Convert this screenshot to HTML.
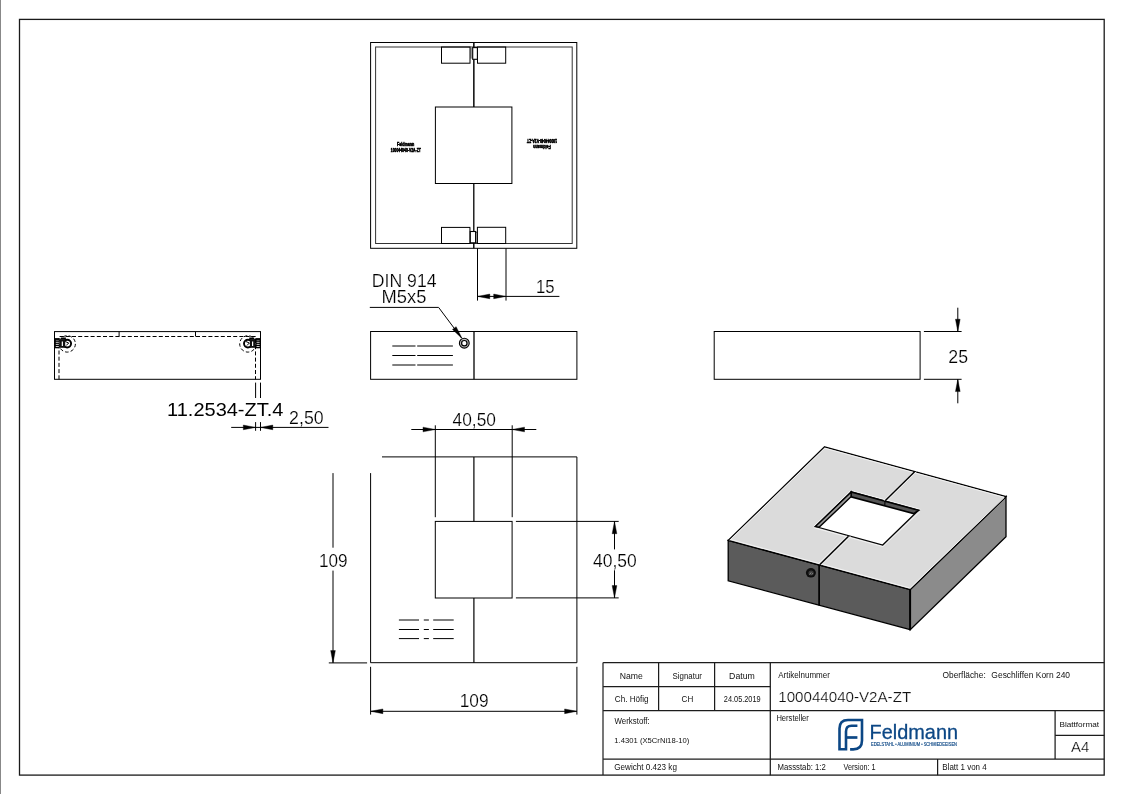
<!DOCTYPE html>
<html><head><meta charset="utf-8"><title>Drawing</title>
<style>
html,body{margin:0;padding:0;background:#fff;}
body{width:1123px;height:794px;overflow:hidden;font-family:"Liberation Sans",sans-serif;}
svg{position:absolute;left:0;top:0;display:block;will-change:transform;}
</style></head>
<body>
<svg width="1123" height="794" viewBox="0 0 1123 794">
<line x1="0.5" y1="0" x2="0.5" y2="794" stroke="#888" stroke-width="1" />
<rect x="19.5" y="19.4" width="1084.7" height="755.7" fill="none" stroke="#1a1a1a" stroke-width="1.3" />
<rect x="370.6" y="42.5" width="206.2" height="205.8" fill="none" stroke="#000" stroke-width="1" />
<rect x="375.6" y="47.0" width="196.6" height="196.5" fill="none" stroke="#333" stroke-width="1" />
<line x1="473.85" y1="42.5" x2="473.85" y2="47.5" stroke="#000" stroke-width="1.5" />
<line x1="473.85" y1="59.3" x2="473.85" y2="107" stroke="#000" stroke-width="1.46" />
<line x1="473.8" y1="183.5" x2="473.8" y2="231.5" stroke="#000" stroke-width="1.3" />
<line x1="473.8" y1="242.8" x2="473.8" y2="248.3" stroke="#000" stroke-width="1.4" />
<rect x="435.4" y="107.0" width="76.5" height="76.5" fill="none" stroke="#000" stroke-width="1" />
<rect x="470.2" y="47.8" width="2.4" height="10.8" fill="#9a9a9a"/>
<rect x="441.5" y="47.0" width="28.5" height="16.2" fill="none" stroke="#000" stroke-width="1" />
<rect x="477.5" y="47.0" width="28.2" height="16.2" fill="none" stroke="#000" stroke-width="1" />
<rect x="472.7" y="47.6" width="4.7" height="11.7" fill="#fff" stroke="#000" stroke-width="1.1" />
<rect x="475.9" y="232.0" width="1.4" height="10.8" fill="#d0d0d0" stroke="#555" stroke-width="0.6"/>
<rect x="441.5" y="227.4" width="28.4" height="16.1" fill="none" stroke="#000" stroke-width="1" />
<rect x="469.5" y="228" width="1" height="15" fill="#777"/>
<rect x="477.4" y="227.3" width="28.3" height="16.2" fill="none" stroke="#000" stroke-width="1" />
<rect x="470.3" y="231.5" width="5.3" height="11.3" fill="#fff" stroke="#000" stroke-width="1.1" />
<text x="405.6" y="145.7" font-size="4.6" font-family="Liberation Sans" font-weight="bold" text-anchor="middle" stroke="#000" stroke-width="0.55" textLength="17.2" lengthAdjust="spacingAndGlyphs">Feldmann</text>
<text x="405.8" y="151.7" font-size="4.6" font-family="Liberation Sans" font-weight="bold" text-anchor="middle" stroke="#000" stroke-width="0.55" textLength="30" lengthAdjust="spacingAndGlyphs">100044040-V2A-ZT</text>
<g transform="rotate(180 542 143.3)"><text x="542" y="141.6" font-size="4.6" font-family="Liberation Sans" font-weight="bold" text-anchor="middle" stroke="#000" stroke-width="0.55" textLength="17.6" lengthAdjust="spacingAndGlyphs">Feldmann</text><text x="542" y="147.8" font-size="4.6" font-family="Liberation Sans" font-weight="bold" text-anchor="middle" stroke="#000" stroke-width="0.55" textLength="30" lengthAdjust="spacingAndGlyphs">100044040-V2A-ZT</text></g>
<line x1="477.5" y1="248.3" x2="477.5" y2="300.6" stroke="#000" stroke-width="1" />
<line x1="506.0" y1="248.3" x2="506.0" y2="300.6" stroke="#000" stroke-width="1" />
<line x1="477.5" y1="296.4" x2="559.4" y2="296.4" stroke="#000" stroke-width="1" />
<path d="M477.5,296.4 L489.8,294.05 L489.8,298.75 Z" fill="#000" stroke="#000" stroke-width="0.4" />
<path d="M506.0,296.4 L493.7,298.75 L493.7,294.05 Z" fill="#000" stroke="#000" stroke-width="0.4" />
<text x="536.03" y="292.7" font-size="17.88" font-family="Liberation Sans" font-weight="normal" fill="#000" stroke="#fff" stroke-width="0.2" textLength="18.57" lengthAdjust="spacingAndGlyphs" >15</text>
<text x="371.85" y="286.6" font-size="17.59" font-family="Liberation Sans" font-weight="normal" fill="#000" stroke="#fff" stroke-width="0.2" textLength="64.66" lengthAdjust="spacingAndGlyphs" >DIN 914</text>
<text x="381.49" y="303.3" font-size="18.31" font-family="Liberation Sans" font-weight="normal" fill="#000" stroke="#fff" stroke-width="0.2" textLength="44.88" lengthAdjust="spacingAndGlyphs" >M5x5</text>
<path d="M369.8,307.4 L438.6,307.4 L461.5,338.0" fill="none" stroke="#000" stroke-width="1" />
<path d="M462.1,338.4 L452.45,329.39 L456.13,326.63 Z" fill="#000" stroke="#000" stroke-width="0.4" />
<rect x="370.6" y="331.5" width="206.3" height="47.8" fill="none" stroke="#000" stroke-width="1" />
<line x1="474.0" y1="331.5" x2="474.0" y2="379.3" stroke="#000" stroke-width="1.3" />
<circle cx="464.3" cy="343.2" r="4.9" fill="#bbb" stroke="#000" stroke-width="1.1"/>
<circle cx="464.3" cy="343.2" r="2.7" fill="#fff" stroke="#000" stroke-width="1.2"/>
<line x1="392.3" y1="346.0" x2="415.5" y2="346.0" stroke="#000" stroke-width="1" />
<line x1="417.2" y1="346.0" x2="452.9" y2="346.0" stroke="#000" stroke-width="1" />
<line x1="392.3" y1="355.5" x2="415.5" y2="355.5" stroke="#000" stroke-width="1" />
<line x1="417.2" y1="355.5" x2="452.9" y2="355.5" stroke="#000" stroke-width="1" />
<line x1="392.3" y1="365.0" x2="415.5" y2="365.0" stroke="#000" stroke-width="1" />
<line x1="417.2" y1="365.0" x2="452.9" y2="365.0" stroke="#000" stroke-width="1" />
<rect x="714.2" y="331.5" width="205.9" height="47.8" fill="none" stroke="#000" stroke-width="1" />
<line x1="923.9" y1="331.5" x2="961.6" y2="331.5" stroke="#000" stroke-width="1" />
<line x1="923.9" y1="379.3" x2="961.6" y2="379.3" stroke="#000" stroke-width="1" />
<line x1="957.8" y1="307.7" x2="957.8" y2="331.5" stroke="#000" stroke-width="1" />
<line x1="957.8" y1="379.3" x2="957.8" y2="403.3" stroke="#000" stroke-width="1" />
<path d="M957.8,331.5 L955.45,319.2 L960.15,319.2 Z" fill="#000" stroke="#000" stroke-width="0.4" />
<path d="M957.8,379.3 L960.15,391.6 L955.45,391.6 Z" fill="#000" stroke="#000" stroke-width="0.4" />
<text x="948.31" y="362.8" font-size="18.02" font-family="Liberation Sans" font-weight="normal" fill="#000" stroke="#fff" stroke-width="0.2" textLength="19.74" lengthAdjust="spacingAndGlyphs" >25</text>
<rect x="54.5" y="331.6" width="206.0" height="47.7" fill="none" stroke="#000" stroke-width="1" />
<path d="M59.0,379.3 V336.5 H255.5 V379.3" fill="none" stroke="#000" stroke-width="1" stroke-dasharray="4,2.2"/>
<line x1="119.1" y1="331.7" x2="119.1" y2="336.5" stroke="#000" stroke-width="1" />
<line x1="195.5" y1="331.7" x2="195.5" y2="336.5" stroke="#000" stroke-width="1" />
<circle cx="67.2" cy="343.9" r="8.2" fill="none" stroke="#000" stroke-width="1" stroke-dasharray="3.5,2.2"/>
<circle cx="67.2" cy="343.6" r="3.9" fill="none" stroke="#000" stroke-width="1.9"/>
<rect x="59.5" y="339.2" width="5.700000000000003" height="8.6" fill="#111"/>
<rect x="61.75" y="341.5" width="1.2" height="4.5" fill="#fff"/>
<path d="M65.2,341.5 L68.7,343 L66.2,345.5" fill="none" stroke="#000" stroke-width="1"/>
<rect x="54.5" y="338.1" width="5.0" height="10.2" fill="#000"/>
<rect x="60.900000000000006" y="337.5" width="5" height="2" fill="#000"/>
<line x1="55.8" y1="342.3" x2="58.8" y2="342.3" stroke="#fff" stroke-width="0.8"/>
<line x1="55.8" y1="344.4" x2="58.8" y2="344.4" stroke="#fff" stroke-width="0.8"/>
<line x1="55.8" y1="346.5" x2="58.8" y2="346.5" stroke="#fff" stroke-width="0.8"/>
<line x1="55.8" y1="340.4" x2="58.8" y2="340.4" stroke="#888" stroke-width="0.8"/>
<circle cx="247.9" cy="343.9" r="8.2" fill="none" stroke="#000" stroke-width="1" stroke-dasharray="3.5,2.2"/>
<circle cx="247.9" cy="343.6" r="3.9" fill="none" stroke="#000" stroke-width="1.9"/>
<rect x="249.9" y="339.2" width="5.400000000000006" height="8.6" fill="#111"/>
<rect x="252.00000000000003" y="341.5" width="1.2" height="4.5" fill="#fff"/>
<path d="M245.9,341.5 L249.4,343 L246.9,345.5" fill="none" stroke="#000" stroke-width="1"/>
<rect x="255.3" y="338.1" width="5.0" height="10.2" fill="#000"/>
<rect x="249.20000000000002" y="337.5" width="5" height="2" fill="#000"/>
<line x1="256.6" y1="342.3" x2="259.6" y2="342.3" stroke="#fff" stroke-width="0.8"/>
<line x1="256.6" y1="344.4" x2="259.6" y2="344.4" stroke="#fff" stroke-width="0.8"/>
<line x1="256.6" y1="346.5" x2="259.6" y2="346.5" stroke="#fff" stroke-width="0.8"/>
<line x1="256.6" y1="340.4" x2="259.6" y2="340.4" stroke="#888" stroke-width="0.8"/>
<line x1="255.6" y1="382.6" x2="255.6" y2="398.0" stroke="#000" stroke-width="1" />
<line x1="260.5" y1="382.6" x2="260.5" y2="398.0" stroke="#000" stroke-width="1" />
<line x1="255.6" y1="422.1" x2="255.6" y2="430.8" stroke="#000" stroke-width="1" />
<line x1="260.5" y1="422.1" x2="260.5" y2="430.8" stroke="#000" stroke-width="1" />
<line x1="231.2" y1="427.4" x2="328.5" y2="427.4" stroke="#000" stroke-width="1" />
<path d="M255.6,427.4 L243.3,429.75 L243.3,425.05 Z" fill="#000" stroke="#000" stroke-width="0.4" />
<path d="M260.5,427.4 L272.8,425.05 L272.8,429.75 Z" fill="#000" stroke="#000" stroke-width="0.4" />
<text x="289.11" y="424.1" font-size="18.46" font-family="Liberation Sans" font-weight="normal" fill="#000" stroke="#fff" stroke-width="0.2" textLength="34.48" lengthAdjust="spacingAndGlyphs" >2,50</text>
<text x="167.13" y="416.4" font-size="18.31" font-family="Liberation Sans" font-weight="normal" fill="#000"  textLength="116.24" lengthAdjust="spacingAndGlyphs" >11.2534-ZT.4</text>
<line x1="382.0" y1="456.9" x2="576.9" y2="456.9" stroke="#000" stroke-width="1" />
<line x1="576.9" y1="456.9" x2="576.9" y2="662.7" stroke="#000" stroke-width="1" />
<line x1="370.5" y1="662.7" x2="576.9" y2="662.7" stroke="#000" stroke-width="1" />
<line x1="370.6" y1="473.1" x2="370.6" y2="662.7" stroke="#000" stroke-width="1" />
<line x1="473.9" y1="456.9" x2="473.9" y2="521.4" stroke="#000" stroke-width="1.2" />
<line x1="473.9" y1="598.0" x2="473.9" y2="662.7" stroke="#000" stroke-width="1.2" />
<rect x="435.3" y="521.4" width="76.8" height="76.6" fill="none" stroke="#000" stroke-width="1" />
<line x1="435.3" y1="425.3" x2="435.3" y2="517.2" stroke="#000" stroke-width="1" />
<line x1="512.2" y1="425.3" x2="512.2" y2="517.2" stroke="#000" stroke-width="1" />
<line x1="411.3" y1="429.5" x2="536.3" y2="429.5" stroke="#000" stroke-width="1" />
<path d="M435.3,429.5 L423.0,431.85 L423.0,427.15 Z" fill="#000" stroke="#000" stroke-width="0.4" />
<path d="M512.2,429.5 L524.5,427.15 L524.5,431.85 Z" fill="#000" stroke="#000" stroke-width="0.4" />
<text x="452.6" y="426.4" font-size="18.02" font-family="Liberation Sans" font-weight="normal" fill="#000" stroke="#fff" stroke-width="0.2" textLength="43.37" lengthAdjust="spacingAndGlyphs" >40,50</text>
<line x1="515.9" y1="521.4" x2="618.7" y2="521.4" stroke="#000" stroke-width="1" />
<line x1="515.9" y1="597.9" x2="618.7" y2="597.9" stroke="#000" stroke-width="1" />
<line x1="614.5" y1="521.4" x2="614.5" y2="549.4" stroke="#000" stroke-width="1" />
<line x1="614.5" y1="570.3" x2="614.5" y2="597.9" stroke="#000" stroke-width="1" />
<path d="M614.5,521.4 L616.85,533.7 L612.15,533.7 Z" fill="#000" stroke="#000" stroke-width="0.4" />
<path d="M614.5,597.9 L612.15,585.6 L616.85,585.6 Z" fill="#000" stroke="#000" stroke-width="0.4" />
<text x="593.0" y="567.3" font-size="18.75" font-family="Liberation Sans" font-weight="normal" fill="#000" stroke="#fff" stroke-width="0.2" textLength="43.68" lengthAdjust="spacingAndGlyphs" >40,50</text>
<line x1="333.0" y1="473.1" x2="333.0" y2="547.7" stroke="#000" stroke-width="1" />
<line x1="333.0" y1="570.6" x2="333.0" y2="662.9" stroke="#000" stroke-width="1" />
<path d="M333.0,662.9 L330.65,650.6 L335.35,650.6 Z" fill="#000" stroke="#000" stroke-width="0.4" />
<line x1="328.8" y1="662.9" x2="367.1" y2="662.9" stroke="#000" stroke-width="1" />
<text x="318.99" y="567.3" font-size="18.02" font-family="Liberation Sans" font-weight="normal" fill="#000" stroke="#fff" stroke-width="0.2" textLength="28.62" lengthAdjust="spacingAndGlyphs" >109</text>
<line x1="398.9" y1="620.0" x2="419.0" y2="620.0" stroke="#000" stroke-width="1" />
<line x1="423.8" y1="620.0" x2="428.9" y2="620.0" stroke="#000" stroke-width="1" />
<line x1="433.2" y1="620.0" x2="453.7" y2="620.0" stroke="#000" stroke-width="1" />
<line x1="398.9" y1="629.5" x2="419.0" y2="629.5" stroke="#000" stroke-width="1" />
<line x1="423.8" y1="629.5" x2="428.9" y2="629.5" stroke="#000" stroke-width="1" />
<line x1="433.2" y1="629.5" x2="453.7" y2="629.5" stroke="#000" stroke-width="1" />
<line x1="398.9" y1="638.6" x2="419.0" y2="638.6" stroke="#000" stroke-width="1" />
<line x1="423.8" y1="638.6" x2="428.9" y2="638.6" stroke="#000" stroke-width="1" />
<line x1="433.2" y1="638.6" x2="453.7" y2="638.6" stroke="#000" stroke-width="1" />
<line x1="370.6" y1="666.8" x2="370.6" y2="714.6" stroke="#000" stroke-width="1" />
<line x1="576.9" y1="666.8" x2="576.9" y2="714.6" stroke="#000" stroke-width="1" />
<line x1="370.6" y1="711.3" x2="576.9" y2="711.3" stroke="#000" stroke-width="1" />
<path d="M370.6,711.3 L382.9,708.95 L382.9,713.65 Z" fill="#000" stroke="#000" stroke-width="0.4" />
<path d="M576.9,711.3 L564.6,713.65 L564.6,708.95 Z" fill="#000" stroke="#000" stroke-width="0.4" />
<text x="459.78" y="707.4" font-size="17.59" font-family="Liberation Sans" font-weight="normal" fill="#000" stroke="#fff" stroke-width="0.2" textLength="28.83" lengthAdjust="spacingAndGlyphs" >109</text>
<path d="M728.2,540.4 L910.2,589.6 L910.2,629.6 L728.2,580.8 Z" fill="#5b5b5b" stroke="#000" stroke-width="1.3" />
<path d="M910.2,589.6 L1006.0,496.6 L1006.0,536.7 L910.2,629.6 Z" fill="#8b8b8b" stroke="#000" stroke-width="1.3" />
<path d="M824.6,446.8 L1006.0,496.6 L910.2,589.6 L728.2,540.4 Z" fill="#dbdbdb" stroke="#000" stroke-width="1.3" />
<path d="M729.8,540.3 L824.7,448.2 L1004.2,497.3 M910.3,587.9 L1004.2,497.6 M731.0,539.6 L909.4,587.9" fill="none" stroke="#f4f4f4" stroke-width="0.9"/>
<path d="M851.2,490.4 L920.3,509.3 M920.0,511.5 L883.0,546.6 L813.8,527.7 M813.8,526.2 L850.6,490.6" fill="none" stroke="#f4f4f4" stroke-width="0.9"/>
<path d="M851.2,491.9 L918.5,510.3 L882.7,545.0 L815.4,526.5 Z" fill="#fff" stroke="#000" stroke-width="1.2" />
<path d="M851.2,491.9 L918.5,510.3 L913.7,513.6 L851.0,496.8 Z" fill="#555" stroke="#000" stroke-width="1.6" />
<path d="M851.2,491.9 L851.0,496.8 L819.3,527.1 L815.4,526.5 Z" fill="#999" stroke="#000" stroke-width="1.4" />
<line x1="885.0" y1="500.4" x2="884.8" y2="505.5" stroke="#000" stroke-width="1.1" />
<path d="M912.9,472.3 L883.9,500.6 M916.4,471.8 L887.2,500.3 M846.8,536.0 L818.0,564.0 M850.4,536.6 L821.4,564.8" fill="none" stroke="#f4f4f4" stroke-width="0.9"/>
<line x1="914.6" y1="471.8" x2="885.4" y2="500.4" stroke="#000" stroke-width="1.4" />
<line x1="848.5" y1="536.3" x2="819.7" y2="564.7" stroke="#000" stroke-width="1.4" />
<line x1="819.1" y1="564.9" x2="819.1" y2="605.4" stroke="#000" stroke-width="1.7" />
<ellipse cx="810.9" cy="572.8" rx="5.0" ry="4.8" fill="#0e0e0e"/>
<ellipse cx="811.1" cy="573.0" rx="2.7" ry="2.5" fill="#3c3c3c"/>
<path d="M809.6,574.6 L811.2,572.4 M811.8,574.4 L812.8,573.2" stroke="#9a9a9a" stroke-width="0.8"/>
<line x1="910.2" y1="589.6" x2="910.2" y2="629.6" stroke="#000" stroke-width="1.8" />
<line x1="603.1" y1="662.6" x2="1104.3" y2="662.6" stroke="#1c1c1c" stroke-width="1.25" />
<line x1="603.0" y1="662.6" x2="603.0" y2="775.1" stroke="#1c1c1c" stroke-width="1.2" />
<line x1="603.1" y1="686.6" x2="770.3" y2="686.6" stroke="#1c1c1c" stroke-width="1.25" />
<line x1="603.1" y1="710.6" x2="1104.3" y2="710.6" stroke="#1c1c1c" stroke-width="1.25" />
<line x1="603.1" y1="759.0" x2="1104.3" y2="759.0" stroke="#1c1c1c" stroke-width="1.25" />
<line x1="658.6" y1="662.6" x2="658.6" y2="710.6" stroke="#1c1c1c" stroke-width="1.25" />
<line x1="714.6" y1="662.6" x2="714.6" y2="710.6" stroke="#1c1c1c" stroke-width="1.25" />
<line x1="770.3" y1="662.6" x2="770.3" y2="775.2" stroke="#1c1c1c" stroke-width="1.25" />
<line x1="1055.1" y1="710.6" x2="1055.1" y2="759.0" stroke="#1c1c1c" stroke-width="1.25" />
<line x1="1055.1" y1="735.4" x2="1104.3" y2="735.4" stroke="#1c1c1c" stroke-width="1.25" />
<line x1="937.6" y1="759.0" x2="937.6" y2="775.2" stroke="#1c1c1c" stroke-width="1.25" />
<text x="619.79" y="678.9" font-size="8.14" font-family="Liberation Sans" font-weight="normal" fill="#111"  textLength="23.09" lengthAdjust="spacingAndGlyphs" >Name</text>
<text x="672.54" y="678.9" font-size="8.14" font-family="Liberation Sans" font-weight="normal" fill="#111"  textLength="29.39" lengthAdjust="spacingAndGlyphs" >Signatur</text>
<text x="729.08" y="678.9" font-size="8.14" font-family="Liberation Sans" font-weight="normal" fill="#111"  textLength="25.69" lengthAdjust="spacingAndGlyphs" >Datum</text>
<text x="614.79" y="702.0" font-size="9.3" font-family="Liberation Sans" font-weight="normal" fill="#111"  textLength="33.84" lengthAdjust="spacingAndGlyphs" >Ch. H&#246;fig</text>
<text x="681.59" y="702.0" font-size="9.3" font-family="Liberation Sans" font-weight="normal" fill="#111"  textLength="11.67" lengthAdjust="spacingAndGlyphs" >CH</text>
<text x="723.83" y="702.0" font-size="8.14" font-family="Liberation Sans" font-weight="normal" fill="#111"  textLength="36.82" lengthAdjust="spacingAndGlyphs" >24.05.2019</text>
<text x="778.28" y="678.4" font-size="8.14" font-family="Liberation Sans" font-weight="normal" fill="#111"  textLength="51.65" lengthAdjust="spacingAndGlyphs" >Artikelnummer</text>
<text x="942.5" y="678.2" font-size="8.14" font-family="Liberation Sans" font-weight="normal" fill="#111"  textLength="43.26" lengthAdjust="spacingAndGlyphs" >Oberfl&#228;che:</text>
<text x="991.38" y="678.2" font-size="8.14" font-family="Liberation Sans" font-weight="normal" fill="#111"  textLength="78.65" lengthAdjust="spacingAndGlyphs" >Geschliffen Korn 240</text>
<text x="778.25" y="701.8" font-size="15.41" font-family="Liberation Sans" font-weight="normal" fill="#111" stroke="#fff" stroke-width="0.2" textLength="132.9" lengthAdjust="spacingAndGlyphs" >100044040-V2A-ZT</text>
<text x="776.38" y="720.9" font-size="8.14" font-family="Liberation Sans" font-weight="normal" fill="#111"  textLength="32.45" lengthAdjust="spacingAndGlyphs" >Hersteller</text>
<text x="614.57" y="723.9" font-size="8.14" font-family="Liberation Sans" font-weight="normal" fill="#111"  textLength="35.15" lengthAdjust="spacingAndGlyphs" >Werkstoff:</text>
<text x="614.32" y="742.6" font-size="7.99" font-family="Liberation Sans" font-weight="normal" fill="#111"  textLength="74.96" lengthAdjust="spacingAndGlyphs" >1.4301 (X5CrNi18-10)</text>
<text x="614.19" y="769.8" font-size="8.14" font-family="Liberation Sans" font-weight="normal" fill="#111"  textLength="62.73" lengthAdjust="spacingAndGlyphs" >Gewicht 0.423 kg</text>
<text x="777.56" y="770.2" font-size="8.14" font-family="Liberation Sans" font-weight="normal" fill="#111"  textLength="48.23" lengthAdjust="spacingAndGlyphs" >Massstab: 1:2</text>
<text x="843.47" y="770.2" font-size="8.14" font-family="Liberation Sans" font-weight="normal" fill="#111"  textLength="32.18" lengthAdjust="spacingAndGlyphs" >Version: 1</text>
<text x="942.34" y="770.2" font-size="8.14" font-family="Liberation Sans" font-weight="normal" fill="#111"  textLength="44.39" lengthAdjust="spacingAndGlyphs" >Blatt 1 von 4</text>
<text x="1059.43" y="726.6" font-size="7.7" font-family="Liberation Sans" font-weight="normal" fill="#111"  textLength="39.63" lengthAdjust="spacingAndGlyphs" >Blattformat</text>
<text x="1070.97" y="751.6" font-size="14.53" font-family="Liberation Sans" font-weight="normal" fill="#111" stroke="#fff" stroke-width="0.2" textLength="18.27" lengthAdjust="spacingAndGlyphs" >A4</text>
<path d="M857.4,725.8 H851.5 Q846,725.8 846,731.5 V749.3 H839.5 V728.5 Q839.5,720 848,720 H862 V740.5 Q862,749.4 853.2,749.4 H850.1" fill="none" stroke="#0c4785" stroke-width="2.6"/>
<line x1="846" y1="737.5" x2="857.4" y2="737.5" stroke="#0c4785" stroke-width="2.7"/>
<text x="869.57" y="739.0" font-size="20.93" font-family="Liberation Sans" font-weight="normal" fill="#0c4785"  textLength="88.53" lengthAdjust="spacingAndGlyphs" stroke="#0c4785" stroke-width="0.3">Feldmann</text>
<text x="871" y="745.6" font-size="4.6" font-family="Liberation Sans" font-weight="normal" fill="#0c4785" stroke="#0c4785" stroke-width="0.15" textLength="86" lengthAdjust="spacingAndGlyphs">EDELSTAHL &#8226; ALUMINIUM &#8226; SCHMIEDEEISEN</text>
</svg>
</body></html>
